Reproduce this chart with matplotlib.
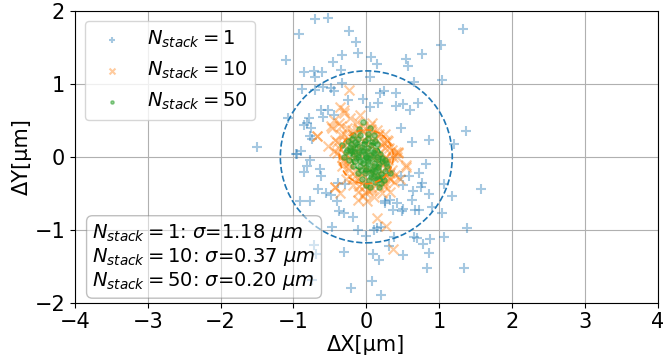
import matplotlib
matplotlib.use("Agg")
import matplotlib.pyplot as plt
import numpy as np

# N_stack = 1 (micrometres)
x1 = [-0.70, -0.52, 1.33, -0.93, -0.24, -0.14, 1.02, -0.11, -0.33, 0.06, 0.77, -1.10,
      -0.46, 0.15, 0.55, 0.57, -0.85, -0.72, -0.61, -0.35, -0.71, 0.05, -0.33, 0.65,
      1.04, -0.88, -0.70, -0.59, -0.49, -0.45, 0.24, 0.41, 0.19, -0.25, -0.05, 0.16,
      0.05, 0.41, 0.51, 0.60, 0.71, -0.62, -0.53, -0.59, -0.44, -0.78, -1.08, -0.81,
      -0.85, -0.76, 0.47, 1.37, -0.77, -0.75, 0.63, 0.86, 1.21, -1.50, -0.97, -0.89,
      -0.95, -0.77, -0.81, -0.85, -0.64, -0.62, -0.66, -0.56, -0.49, -0.91, -0.77, -0.39,
      -0.40, -0.29, -0.37, -0.31, -0.18, -0.47, -0.11, 0.15, 0.11, 0.20, -0.01, 0.25,
      0.33, 0.26, 0.42, 0.36, 0.49, 0.51, 0.63, 0.67, 0.73, 0.64, 0.75, 0.76, 0.86,
      0.73, 0.82, 1.06, 1.18, 0.90, 1.04, 1.57, 1.38, 1.06, 0.88, 0.78, 0.65, 0.70,
      0.86, 0.83, 1.34, 0.38, 0.31, 0.50, 0.09, 0.18, -0.31, 0.08, 0.20, -0.21, -0.72,
      -0.69, -0.75, 0.33, 0.47, 0.58, 0.50]
y1 = [1.89, 1.91, 1.76, 1.68, 1.73, 1.57, 1.54, 1.42, 1.40, 1.37, 1.41, 1.33,
      1.30, 1.27, 1.35, 1.25, 1.17, 1.18, 1.16, 1.19, 1.09, 1.09, 1.01, 1.03,
      1.05, 0.93, 0.92, 0.96, 0.95, 0.91, 0.91, 0.87, 0.87, 0.78, 0.79, 0.74,
      0.69, 0.70, 0.72, 0.65, 0.74, 0.64, 0.64, 0.55, 0.57, 0.54, 0.53, 0.47,
      0.44, 0.40, 0.40, 0.36, 0.28, 0.24, 0.21, 0.23, 0.17, 0.14, 0.04, 0.08,
      0.04, -0.04, -0.12, -0.21, -0.16, -0.26, -0.44, -0.49, -0.52, -0.60, -0.61, -0.36,
      -0.61, -0.37, -0.74, -0.77, -0.83, -0.96, -1.00, -0.98, -1.00, -0.96, -1.08, -0.60,
      -0.59, -0.63, -0.63, -0.73, -0.74, -0.72, -0.59, -0.73, -0.73, -0.47, -0.42, -0.36, -0.51,
      -0.22, -0.10, -0.37, -0.54, -0.69, -0.77, -0.44, -0.98, -1.10, -1.13, -1.20, -1.10, -1.11,
      -1.32, -1.53, -1.52, -1.10, -1.23, -1.35, -1.33, -1.41, -1.30, -1.71, -1.90, -1.80, -1.21,
      -1.33, -1.69, -0.20, -0.26, -0.26, -0.38]

# N_stack = 10
x10 = [-0.24, -0.31, -0.67, -0.49, 0.41, 0.28, -0.11, 0.01, 0.15, 0.27, 0.37, -0.43,
       0.54, 0.42, 0.03, 0.33, 0.25, -0.36, -0.31, -0.45, -0.47, -0.68, -0.43, -0.38,
       -0.22, -0.13, -0.08, -0.20, -0.31, -0.04, 0.08, 0.15, 0.26, 0.24, 0.31, 0.44,
       0.03, -0.40, -0.31, -0.24, -0.13, -0.43, -0.36, -0.11, -0.04, -0.06, 0.44, 0.54,
       0.35, 0.31, 0.22, 0.08, 0.26,
       -0.25, -0.18, -0.10, 0.02, 0.12, 0.20, -0.30, -0.22, -0.15, -0.05, 0.08, 0.18,
       0.25, -0.28, -0.20, -0.12, 0.00, 0.10, 0.20, 0.28, -0.25, -0.15, -0.05, 0.05,
       0.15, 0.22, -0.20, -0.08, 0.02, 0.12, 0.30, -0.35, -0.32, 0.35, 0.18, -0.02,
       0.25, -0.12, 0.05, -0.40, 0.14, -0.18, 0.32,
       -0.38, -0.27, -0.16, -0.06, 0.06, 0.16, 0.26, 0.36, -0.34, -0.24, 0.12, 0.22,
       0.32, 0.40, -0.10, -0.02, 0.07, 0.17, -0.44, -0.35, -0.26, 0.00, 0.30, 0.38,
       -0.14, -0.28, 0.10, 0.21, -0.52, -0.18, 0.46, 0.02, -0.33, 0.27, -0.08, 0.13]
y10 = [0.92, 0.64, 0.29, 0.42, 0.07, 0.23, -0.59, -0.61, -0.84, -0.95, -1.26, -0.42,
       -0.14, 0.00, -0.45, -0.48, -0.36, 0.68, 0.60, 0.51, 0.39, 0.28, 0.23, 0.46,
       0.53, 0.48, 0.58, 0.37, 0.32, 0.42, 0.46, 0.37, 0.32, 0.19, 0.12, 0.07,
       0.28, 0.05, -0.06, -0.18, -0.29, -0.41, -0.50, -0.48, -0.54, -0.36, 0.05, -0.11,
       -0.18, -0.29, -0.36, -0.43, -0.09,
       0.25, 0.30, 0.32, 0.30, 0.25, 0.18, 0.15, 0.10, 0.18, 0.22, 0.15, 0.05,
       -0.02, 0.02, -0.05, 0.05, 0.08, 0.00, -0.10, -0.15, -0.15, -0.20, -0.12, -0.20,
       -0.25, -0.28, -0.30, -0.28, -0.32, -0.35, -0.05, 0.30, -0.05, 0.10, 0.32, -0.40,
       -0.40, 0.40, 0.42, 0.20, -0.15, -0.38, -0.30,
       0.12, 0.20, 0.26, 0.36, 0.38, 0.28, 0.12, 0.00, -0.12, -0.08, -0.05, -0.20,
       -0.22, -0.25, -0.40, -0.48, -0.46, -0.42, 0.08, 0.42, 0.40, 0.18, 0.22, -0.35,
       0.10, -0.30, -0.55, -0.50, 0.15, 0.02, -0.30, -0.18, 0.00, 0.00, -0.22, 0.10]

# N_stack = 50
x50 = [-0.04, 0.05, -0.10, -0.18, 0.02, 0.10, -0.25, -0.12, -0.02, 0.08, -0.33, -0.22,
       -0.15, -0.06, 0.03, 0.12, -0.28, -0.20, -0.10, -0.02, 0.06, 0.15, 0.22, -0.24,
       -0.14, -0.05, 0.02, 0.10, 0.18, 0.28, -0.18, -0.08, 0.00, 0.08, 0.16, 0.25,
       0.33, -0.12, -0.02, 0.06, 0.14, 0.22, -0.06, 0.04, 0.12, 0.20, 0.17, 0.00,
       -0.15, 0.00, -0.08, 0.15, -0.30, 0.05, 0.25, -0.20, 0.10, -0.05, 0.03, 0.12,
       -0.21, -0.13, -0.03, 0.07, -0.26, -0.17, -0.07, 0.01, 0.09, 0.19, -0.11, -0.01,
       0.05, 0.13, 0.21, 0.27, -0.09, 0.03, 0.11, 0.16, -0.16, -0.04, 0.08, 0.20,
       -0.22, -0.12, 0.00, 0.14, 0.24, 0.06, -0.07, 0.10, 0.18, -0.19, 0.02, 0.12]
y50 = [0.48, 0.40, 0.38, 0.30, 0.32, 0.30, 0.22, 0.24, 0.22, 0.20, 0.16, 0.14,
       0.12, 0.14, 0.12, 0.10, 0.06, 0.04, 0.06, 0.04, 0.02, 0.00, -0.02, -0.04,
       -0.02, -0.04, -0.06, -0.08, -0.10, -0.12, -0.12, -0.12, -0.14, -0.16, -0.18, -0.20,
       -0.22, -0.22, -0.22, -0.24, -0.26, -0.28, -0.30, -0.32, -0.34, -0.36, -0.41, -0.38,
       0.20, 0.00, 0.30, 0.18, 0.00, -0.42, -0.05, 0.25, 0.05, 0.08, -0.02, -0.20,
       0.18, 0.18, 0.18, 0.16, 0.10, 0.08, 0.10, 0.08, 0.06, 0.04, 0.00, 0.00,
       -0.01, -0.03, -0.06, -0.08, -0.06, -0.10, -0.12, -0.14, -0.06, -0.08, -0.20, -0.24,
       0.10, 0.02, -0.18, -0.30, -0.32, -0.28, -0.18, -0.26, -0.30, 0.08, 0.26, 0.22]

labels = ["$N_{stack}=1$", "$N_{stack}=10$", "$N_{stack}=50$"]
sigmas = [1.18, 0.37, 0.20]
stacks = [1, 10, 50]

fig = plt.figure(figsize=(6.63, 3.61), dpi=100)
ax = fig.add_axes([0.113, 0.161, 0.879, 0.809])

ax.scatter(x1, y1, marker="+", s=50, color="C0", alpha=0.4, label=labels[0])
ax.scatter(x10, y10, marker="x", s=50, color="C1", alpha=0.4, label=labels[1])
ax.scatter(x50, y50, marker=".", s=60, color="C2", alpha=0.5, label=labels[2])

for i, r in enumerate(sigmas):
    ax.add_patch(plt.Circle((0, 0), r, fill=False, ls="--", color="C%d" % i, lw=1.2))

ax.set_xlim(-4, 4)
ax.set_ylim(-2, 2)
ax.set_aspect("equal")
ax.set_xticks(np.arange(-4, 5, 1))
ax.set_yticks(np.arange(-2, 3, 1))
ax.tick_params(labelsize=15)
ax.grid(True)
ax.set_axisbelow(True)
ax.set_xlabel("ΔX[μm]", fontsize=15, labelpad=2)
ax.set_ylabel("ΔY[μm]", fontsize=15, labelpad=2)

ax.legend(loc="upper left", fontsize=14, markerscale=0.6)

txt = "\n".join("$N_{stack}=%d$: $\\sigma$=%.2f $\\mu m$" % (n, s) for n, s in zip(stacks, sigmas))
ax.text(0.03, 0.035, txt, transform=ax.transAxes, fontsize=14, va="bottom", ha="left",
        linespacing=1.15,
        bbox=dict(boxstyle="round", facecolor="white", edgecolor="gray", alpha=0.5))

fig.savefig("out.png", dpi=100)
